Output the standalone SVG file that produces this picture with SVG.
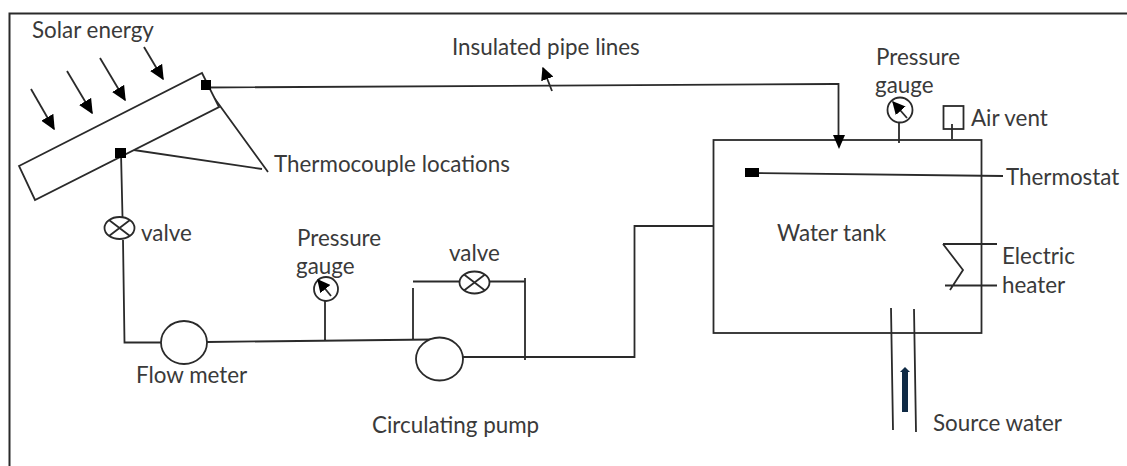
<svg xmlns="http://www.w3.org/2000/svg" width="1127" height="466" viewBox="0 0 1127 466">
<style>
text{font-family:"Lato","Open Sans","Liberation Sans",sans-serif;font-size:22.400px;fill:#3a3a3a}
.l{fill:none;stroke:#2a2a2a;stroke-width:1.800}
.s{fill:#fff;stroke:#2a2a2a;stroke-width:1.800}
.b{fill:#000;stroke:none}
</style>
<defs>
<marker id="a" viewBox="0 0 10 10" refX="9" refY="5" markerWidth="15" markerHeight="14" markerUnits="userSpaceOnUse" orient="auto" preserveAspectRatio="none"><path d="M0 0L10 5L0 10Z" fill="#000"/></marker>
<marker id="as" viewBox="0 0 10 10" refX="9" refY="5" markerWidth="13" markerHeight="13" markerUnits="userSpaceOnUse" orient="auto" preserveAspectRatio="none"><path d="M0 0L10 5L0 10Z" fill="#000"/></marker>
<g id="xv"><ellipse rx="15" ry="11" class="s"/><path class="l" d="M-10.500-8L10.500 8M-10.500 8L10.500-8"/></g>
</defs>
<rect width="1127" height="466" fill="#fff"/>
<g id="frame"><path class="l" style="stroke-width:2" d="M9.500 466V13.500H1127"/></g>
<g id="connectors">
<path class="l" d="M206 87.500L834 84H838.500V142"/>
<path class="l" d="M207 88L268 172M127 149L262 169"/>
<path class="l" d="M121 153L122.500 217M123 240L124.500 342.500H161"/>
<path class="l" d="M207 342L432 339.500M325 301V341M413 340V288M413 281.500H459M489 281.500H524.500M525 278V360"/>
<path class="l" d="M463 357H634.500V226H713"/>
<path class="l" d="M899 122V143M952 124V139"/>
<path class="l" d="M750 173L1003 176"/>
<path class="l" d="M943 244H997M945 285.500H997M943 244L963 270L950 290"/>
<path class="l" d="M891 308L893 430M914 309L916 432"/>
<path d="M905 412V372" fill="none" stroke="#0f2a45" stroke-width="6"/>
<path d="M900 372L905 367L910 372Z" fill="#0f2a45"/>
<path class="l" d="M31 89L54 129" marker-end="url(#a)"/>
<path class="l" d="M67 71L92 113" marker-end="url(#a)"/>
<path class="l" d="M100 58L125 100" marker-end="url(#a)"/>
<path class="l" d="M144 47L163 79" marker-end="url(#a)"/>
<path class="l" d="M552 91L543 68" marker-end="url(#as)"/>
</g>
<g id="collector"><path class="s" d="M19 166L202 73L219 107L35 200Z"/><rect class="b" x="201" y="80" width="10" height="10"/><rect class="b" x="115" y="148" width="11" height="10"/></g>
<g id="valve-1"><use href="#xv" x="119.500" y="228"/><text x="141" y="241">valve</text></g>
<g id="flow-meter"><ellipse class="s" cx="184" cy="342.500" rx="23" ry="21.500"/><text x="136" y="383">Flow meter</text></g>
<g id="gauge-1"><circle class="s" cx="326" cy="289" r="12"/><path class="l" d="M331 296L318 280" marker-end="url(#as)"/><text x="297" y="246">Pressure</text><text x="296" y="274">gauge</text></g>
<g id="valve-2"><use href="#xv" x="474.500" y="282.500"/><text x="449" y="261">valve</text></g>
<g id="pump"><ellipse class="s" cx="439.500" cy="359" rx="23.500" ry="21.500"/><text x="372" y="433">Circulating pump</text></g>
<g id="tank"><rect class="l" x="713.500" y="140" width="268" height="193"/><rect class="b" x="745" y="168" width="14" height="9"/><path d="M833 135H845L839 149Z" fill="#000"/><text x="777" y="241">Water tank</text></g>
<g id="gauge-2"><circle class="s" cx="900" cy="110" r="12.500"/><path class="l" d="M907 118L893 102" marker-end="url(#as)"/><text x="876" y="65">Pressure</text><text x="875" y="93">gauge</text></g>
<g id="air-vent"><rect class="l" x="943.500" y="106" width="20" height="23"/><text x="971" y="126">Air vent</text></g>
<g id="labels">
<text x="32" y="38">Solar energy</text>
<text x="452" y="55">Insulated pipe lines</text>
<text x="274" y="172">Thermocouple locations</text>
<text x="1006" y="185">Thermostat</text>
<text x="1002" y="264">Electric</text>
<text x="1002" y="293">heater</text>
<text x="933" y="431">Source water</text>
</g>
</svg>
